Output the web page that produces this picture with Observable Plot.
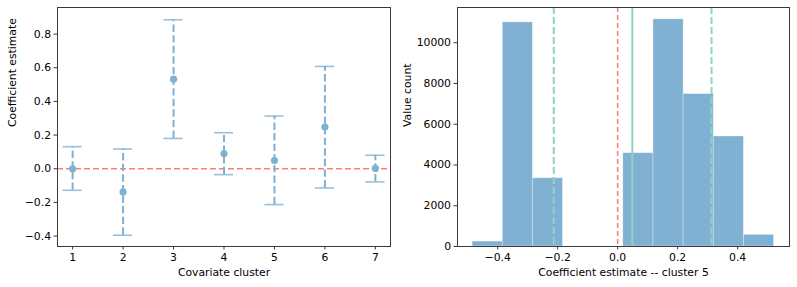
<!DOCTYPE html>
<html>
<head>
<meta charset="utf-8">
<script src="https://cdn.jsdelivr.net/npm/d3@7"></script>
<script src="https://cdn.jsdelivr.net/npm/@observablehq/plot@0.6"></script>
<style>
  body { margin: 0; background: #fff; }
  #wrap { display: flex; width: 797px; height: 287px; }
  svg { font-family: "DejaVu Sans", sans-serif; }
</style>
</head>
<body>
<div id="wrap"></div>
<script>
// Per-cluster coefficient estimates with interval bounds
const clusters  = [1, 2, 3, 4, 5, 6, 7];
const estimates = [0.000, -0.138, 0.532, 0.090, 0.049, 0.248, 0.002];
const lower     = [-0.128, -0.395, 0.180, -0.035, -0.213, -0.114, -0.078];
const upper     = [0.131, 0.117, 0.885, 0.214, 0.313, 0.608, 0.080];

// Histogram of sampled estimates for cluster 5
const binEdges  = [-0.4836, -0.3831, -0.2826, -0.1821, -0.0816, 0.0189,
                   0.1194, 0.2199, 0.3204, 0.4209, 0.5214];
const binCounts = [240, 11000, 3350, 0, 0, 4580, 11150, 7480, 5400, 570];

// Tick values
const leftYTicks  = [-0.4, -0.2, 0.0, 0.2, 0.4, 0.6, 0.8];
const rightXTicks = [-0.4, -0.2, 0.0, 0.2, 0.4];
const rightYTicks = [0, 2000, 4000, 6000, 8000, 10000];

const blue = "#80b1d3", red = "#fb8072", teal = "#8dd3c7", spine = "#3a3a3a";
const capHalf = 0.19; // half cap width in cluster units
const fs = 10.8;

const rows = clusters.map((c, i) => ({cluster: c, est: estimates[i], lo: lower[i], hi: upper[i]}));
const bins = binCounts.map((n, i) => ({x1: binEdges[i], x2: binEdges[i + 1], n}));
const k = clusters.indexOf(5);

const common = {
  height: 287,
  marginTop: 7,
  marginBottom: 41,
  style: {fontSize: fs + "px", fontFamily: "DejaVu Sans, sans-serif", color: "#000", background: "#fff"}
};

const left = Plot.plot({
  ...common,
  width: 400,
  marginLeft: 57,
  marginRight: 10,
  x: {domain: [0.7, 7.3]},
  y: {domain: [-0.462, 0.958]},
  marks: [
    Plot.ruleY([0], {stroke: red, strokeWidth: 1.6, strokeDasharray: "6,3"}),
    Plot.ruleX(rows, {x: "cluster", y1: "lo", y2: "hi", stroke: blue, strokeWidth: 2, strokeDasharray: "7.4,3.2"}),
    Plot.ruleY(rows, {y: "hi", x1: d => d.cluster - capHalf, x2: d => d.cluster + capHalf, stroke: blue, strokeWidth: 1.6, strokeOpacity: 0.8}),
    Plot.ruleY(rows, {y: "lo", x1: d => d.cluster - capHalf, x2: d => d.cluster + capHalf, stroke: blue, strokeWidth: 1.6, strokeOpacity: 0.8}),
    Plot.dot(rows, {x: "cluster", y: "est", r: 3.6, fill: blue, stroke: "none"}),
    Plot.frame({stroke: spine}),
    Plot.axisX(clusters, {tickSize: 3.5, tickPadding: 3, tickFormat: d3.format("d"), label: null, stroke: spine, fontSize: fs}),
    Plot.axisY(leftYTicks, {tickSize: 3.5, tickPadding: 3, tickFormat: d3.format(".1f"), label: null, stroke: spine, fontSize: fs}),
    Plot.text(["Covariate cluster"], {frameAnchor: "bottom", dy: 29, fontSize: fs}),
    Plot.text(["Coefficient estimate"], {frameAnchor: "left", dx: -45, rotate: -90, fontSize: fs})
  ]
});

const right = Plot.plot({
  ...common,
  width: 397,
  marginLeft: 57,
  marginRight: 8,
  x: {domain: [-0.534, 0.573]},
  y: {domain: [0, 11730]},
  marks: [
    Plot.rectY(bins, {x1: "x1", x2: "x2", y: "n", fill: blue, stroke: "#fff", strokeWidth: 0.7, strokeOpacity: 0.45, inset: 0}),
    Plot.ruleX([0], {stroke: red, strokeWidth: 1.6, strokeDasharray: "5,3"}),
    Plot.ruleX([estimates[k]], {stroke: teal, strokeWidth: 2}),
    Plot.ruleX([lower[k], upper[k]], {stroke: teal, strokeWidth: 2, strokeDasharray: "7,3"}),
    Plot.frame({stroke: spine}),
    Plot.axisX(rightXTicks, {tickSize: 3.5, tickPadding: 3, tickFormat: d3.format(".1f"), label: null, stroke: spine, fontSize: fs}),
    Plot.axisY(rightYTicks, {tickSize: 3.5, tickPadding: 3, tickFormat: d3.format("d"), label: null, stroke: spine, fontSize: fs}),
    Plot.text(["Coefficient estimate -- cluster 5"], {frameAnchor: "bottom", dy: 29, fontSize: fs}),
    Plot.text(["Value count"], {frameAnchor: "left", dx: -50, rotate: -90, fontSize: fs})
  ]
});

document.getElementById("wrap").append(left, right);
</script>
</body>
</html>
